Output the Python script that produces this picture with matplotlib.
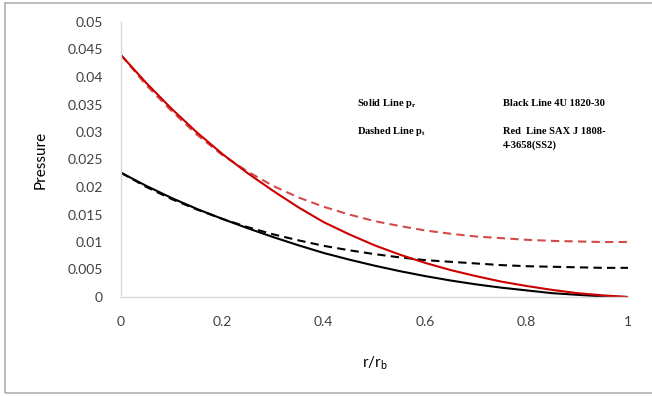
import matplotlib
matplotlib.use("Agg")
import matplotlib.pyplot as plt
from matplotlib.patches import Rectangle

# r/rb sample points (every 0.05)
r = [0.0, 0.05, 0.1, 0.15, 0.2, 0.25, 0.3, 0.35, 0.4, 0.45, 0.5,
     0.55, 0.6, 0.65, 0.7, 0.75, 0.8, 0.85, 0.9, 0.95, 1.0]

# Red = SAX J 1808-4-3658(SS2), Black = 4U 1820-30
red_pr = [0.0440, 0.0389, 0.0342, 0.0299, 0.0260, 0.0225, 0.0193, 0.0163, 0.0136, 0.0114, 0.0094,
          0.0077, 0.0062, 0.0049, 0.0038, 0.0028, 0.0020, 0.0013, 0.0007, 0.0003, 0.0000]
red_pt = [0.0440, 0.0385, 0.0338, 0.0295, 0.0258, 0.0228, 0.0202, 0.0181, 0.0164, 0.0150, 0.0138,
          0.0129, 0.0121, 0.0115, 0.0110, 0.0107, 0.0104, 0.0102, 0.0101, 0.0100, 0.0100]
black_pr = [0.0226, 0.0202, 0.0180, 0.0160, 0.0142, 0.0125, 0.0109, 0.0094, 0.0080, 0.0068, 0.0057,
            0.0047, 0.0038, 0.0030, 0.0023, 0.0017, 0.0012, 0.0007, 0.0004, 0.0001, 0.0000]
black_pt = [0.0226, 0.0200, 0.0178, 0.0159, 0.0142, 0.0127, 0.0114, 0.0103, 0.0093, 0.0085, 0.0078,
            0.0072, 0.0067, 0.0064, 0.0061, 0.0058, 0.0056, 0.0055, 0.0054, 0.0053, 0.0053]

x_ticks = [0, 0.2, 0.4, 0.6, 0.8, 1]
x_tick_labels = ["0", "0.2", "0.4", "0.6", "0.8", "1"]
y_ticks = [0, 0.005, 0.01, 0.015, 0.02, 0.025, 0.03, 0.035, 0.04, 0.045, 0.05]
y_tick_labels = ["0", "0.005", "0.01", "0.015", "0.02", "0.025", "0.03", "0.035", "0.04", "0.045", "0.05"]

plt.rcParams['font.family'] = ['Lato', 'DejaVu Sans']

fig = plt.figure(figsize=(6.52, 3.96), dpi=100)
ax = fig.add_axes([121/652, 99/396, 507/652, 275/396])

# outer frame like the excel chart border
fig.patches.append(Rectangle((5/652, 3/396), 1.0, 390/396, transform=fig.transFigure,
                             fill=False, edgecolor="#b0b0b0", linewidth=1.2))

ax.plot(r, red_pt, color="#d24b4b", linewidth=1.5, dashes=(4, 2.5))
ax.plot(r, black_pt, color="black", linewidth=1.5, dashes=(4, 2.5))
ax.plot(r, black_pr, color="black", linewidth=1.5)
ax.plot(r, red_pr, color="#cc0000", linewidth=1.5)

ax.set_xlim(0, 1)
ax.set_ylim(0, 0.05)
ax.set_xticks(x_ticks)
ax.set_xticklabels(x_tick_labels)
ax.set_yticks(y_ticks)
ax.set_yticklabels(y_tick_labels)
ax.tick_params(axis="both", length=0, labelsize=10, labelcolor="#404040")
ax.tick_params(axis="y", pad=13)
ax.tick_params(axis="x", pad=14)

for s in ["top", "right"]:
    ax.spines[s].set_visible(False)
for s in ["left", "bottom"]:
    ax.spines[s].set_color("#d9d9d9")
    ax.spines[s].set_linewidth(1.0)

ax.set_ylabel("Pressure", fontsize=11, color="black")
ax.yaxis.set_label_coords(-0.145, 0.5)
ax.set_xlabel(r"$\mathregular{r/r_b}$", fontsize=11, color="black")
ax.xaxis.set_label_coords(0.5, -0.21)

note = dict(family=["Liberation Serif", "DejaVu Serif"], fontsize=7.6, weight="bold",
            transform=fig.transFigure, va="center", ha="left")
fig.text(357/652, 1 - 104/396, r"Solid Line p$_\mathregular{r}$", **note)
fig.text(357/652, 1 - 131/396, r"Dashed Line p$_\mathregular{t}$", **note)
fig.text(503/652, 1 - 104/396, "Black Line 4U 1820-30", **note)
fig.text(503/652, 1 - 131/396, "Red  Line SAX J 1808-", **note)
fig.text(503/652, 1 - 145/396, "4-3658(SS2)", **note)

fig.savefig("out.png", dpi=100)
